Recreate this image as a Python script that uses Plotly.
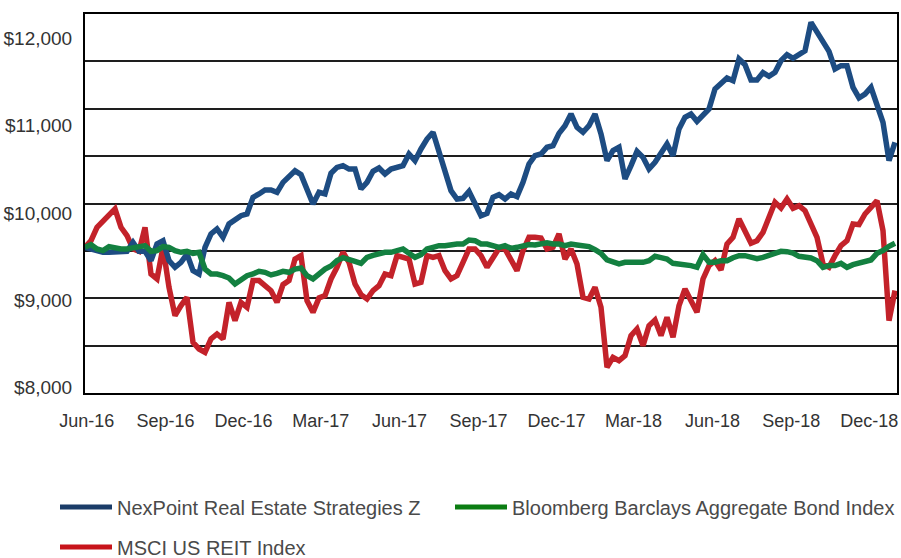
import pandas as pd
import plotly.graph_objects as go

# Weekly observations, Jun-2016 .. Dec-2018 (growth of a hypothetical investment)
dates = pd.date_range("2016-05-30", periods=136, freq="7D")

nexpoint = [9606, 9587, 9560, 9549, 9549, 9549, 9549, 9560, 9663, 9560,
            9560, 9453, 9644, 9682, 9453, 9377, 9434, 9529, 9338, 9300,
            9606, 9759, 9816, 9721, 9874, 9931, 9969, 9988, 10179, 10218,
            10263, 10263, 10237, 10351, 10428, 10485, 10439, 10275, 10103, 10237,
            10218, 10455, 10523, 10543, 10504, 10504, 10275, 10351, 10478, 10516,
            10447, 10504, 10523, 10543, 10676, 10600, 10734, 10848, 10925, 10715,
            10485, 10256, 10160, 10168, 10248, 10122, 9969, 9996, 10179, 10210,
            10160, 10218, 10187, 10351, 10562, 10657, 10676, 10753, 10772, 10913,
            11001, 11135, 10982, 10925, 11001, 11135, 10906, 10600, 10715, 10753,
            10390, 10543, 10707, 10638, 10504, 10581, 10676, 10791, 10657, 10963,
            11097, 11135, 11051, 11127, 11192, 11422, 11494, 11548, 11517, 11766,
            11701, 11525, 11525, 11609, 11567, 11613, 11747, 11816, 11774, 11816,
            11861, 12186, 12072, 11957, 11854, 11651, 11689, 11689, 11441, 11319,
            11364, 11441, 11257, 11040, 10600, 10810]

bond = [9606, 9637, 9587, 9568, 9614, 9598, 9587, 9587, 9598, 9606,
        9625, 9560, 9568, 9614, 9606, 9568, 9549, 9560, 9537, 9549,
        9357, 9300, 9300, 9281, 9254, 9185, 9224, 9281, 9300, 9331,
        9319, 9289, 9308, 9331, 9319, 9357, 9369, 9281, 9243, 9300,
        9357, 9392, 9453, 9487, 9472, 9445, 9422, 9491, 9514, 9537,
        9549, 9549, 9568, 9587, 9537, 9491, 9522, 9587, 9606, 9625,
        9625, 9637, 9644, 9644, 9690, 9682, 9644, 9644, 9625, 9606,
        9625, 9594, 9606, 9625, 9637, 9633, 9644, 9659, 9644, 9644,
        9625, 9644, 9633, 9625, 9614, 9579, 9537, 9461, 9434, 9415,
        9434, 9434, 9449, 9434, 9453, 9503, 9487, 9472, 9422, 9415,
        9415, 9396, 9377, 9522, 9434, 9434, 9453, 9453, 9487, 9510,
        9510, 9491, 9476, 9491, 9510, 9529, 9560, 9556, 9541, 9503,
        9491, 9484, 9453, 9377, 9396, 9396, 9422, 9377, 9407, 9430,
        9453, 9461, 9537, 9568, 9617, 9652]

reit = [9606, 9682, 9835, 9912, 9969, 10046, 9835, 9740, 9587, 9560,
        9835, 9300, 9243, 9606, 9147, 8822, 8937, 9032, 8516, 8440,
        8402, 8555, 8612, 8555, 8975, 8765, 8975, 8918, 9224, 9224,
        9166, 9109, 8975, 9178, 9224, 9472, 9510, 8994, 8860, 9025,
        9052, 9243, 9377, 9549, 9434, 9185, 9063, 9013, 9109, 9166,
        9300, 9281, 9510, 9499, 9472, 9185, 9204, 9510, 9491, 9510,
        9338, 9243, 9281, 9434, 9587, 9587, 9510, 9377, 9472, 9594,
        9587, 9472, 9338, 9568, 9721, 9721, 9713, 9587, 9606, 9759,
        9472, 9587, 9415, 9032, 9013, 9147, 8918, 8230, 8344, 8306,
        8363, 8593, 8669, 8478, 8707, 8772, 8593, 8803, 8574, 8937,
        9128, 8994, 8860, 9243, 9396, 9453, 9346, 9644, 9721, 9931,
        9778, 9652, 9682, 9778, 9950, 10122, 10057, 10160, 10053, 10084,
        10026, 9854, 9721, 9415, 9377, 9510, 9625, 9682, 9874, 9866,
        9988, 10064, 10141, 9797, 8765, 9109]

series_names = ["NexPoint Real Estate Strategies Z",
                "Bloomberg Barclays Aggregate Bond Index",
                "MSCI US REIT Index"]
y_tick_values = [8000, 9000, 10000, 11000, 12000]
y_tick_labels = ["$8,000", "$9,000", "$10,000", "$11,000", "$12,000"]
x_tick_values = ["2016-06-01", "2016-09-01", "2016-12-01", "2017-03-01",
                 "2017-06-01", "2017-09-01", "2017-12-01", "2018-03-01",
                 "2018-06-01", "2018-09-01", "2018-12-01"]

line_colors = {"nex": "#1d4c82", "bond": "#138040", "reit": "#c3222a"}
legend_colors = {"nex": "#1b3c68", "bond": "#0b7d12", "reit": "#c8141b"}

FONT = "Liberation Sans, Arial, sans-serif"
fig = go.Figure()

# chart lines (draw order: REIT, NexPoint, Bond on top)
fig.add_trace(go.Scatter(x=dates, y=reit, mode="lines", showlegend=False,
                         line=dict(color=line_colors["reit"], width=5.5)))
fig.add_trace(go.Scatter(x=dates, y=nexpoint, mode="lines", showlegend=False,
                         line=dict(color=line_colors["nex"], width=5.5)))
fig.add_trace(go.Scatter(x=dates, y=bond, mode="lines", showlegend=False,
                         line=dict(color=line_colors["bond"], width=5.5)))

# legend entries
for key, name, leg in [("nex", series_names[0], "legend"),
                       ("bond", series_names[1], "legend2"),
                       ("reit", series_names[2], "legend3")]:
    fig.add_trace(go.Scatter(x=[dates[0]], y=[None], mode="lines", name=name,
                             legend=leg, showlegend=True,
                             line=dict(color=legend_colors[key], width=5)))

W, H = 901, 558
def legend_cfg(px, py):
    return dict(x=px / W, y=1 - py / H, xref="container", yref="container",
                xanchor="left", yanchor="middle", bgcolor="rgba(0,0,0,0)",
                itemwidth=52, font=dict(family=FONT, size=20, color="#4a4a4a"))

fig.update_layout(
    width=W, height=H,
    margin=dict(l=85, r=4, t=14, b=165, autoexpand=False),
    paper_bgcolor="white", plot_bgcolor="white",
    font=dict(family=FONT, color="#333333"),
    legend=legend_cfg(55, 507),
    legend2=legend_cfg(450, 507),
    legend3=legend_cfg(55, 547),
    xaxis=dict(type="date", range=["2016-05-30", "2019-01-02 08:00"],
               tickvals=x_tick_values, tickformat="%b-%y",
               showgrid=False, zeroline=False, ticks="",
               ticklabelstandoff=10,
               tickfont=dict(family=FONT, size=18, color="#333333"),
               showline=True, linecolor="black", linewidth=2, mirror=True),
    yaxis=dict(range=[7935, 12282], tickvals=y_tick_values,
               ticktext=y_tick_labels,
               showgrid=False, zeroline=False, ticks="",
               ticklabelstandoff=7,
               tickfont=dict(family=FONT, size=19, color="#333333"),
               showline=True, linecolor="black", linewidth=2, mirror=True,
               minor=dict(tick0=7935, dtick=543.375, showgrid=True,
                          gridcolor="#1e1e1e", gridwidth=2, ticks="")),
)

fig.write_html("out.html", config={"displayModeBar": False},
               post_script="document.body.style.margin='0px';")
